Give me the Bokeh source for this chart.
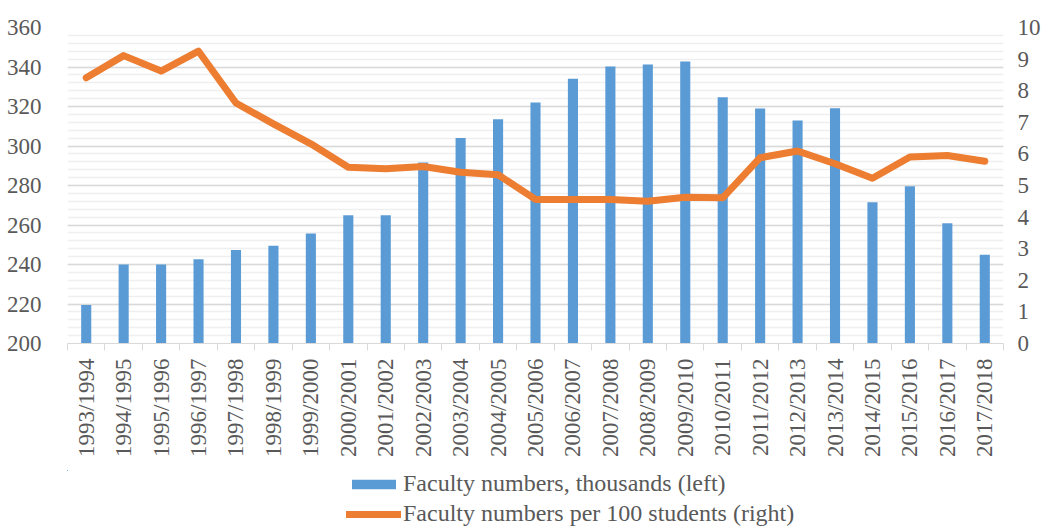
import math
from bokeh.plotting import figure
from bokeh.layouts import column
from bokeh.models import (Range1d, LinearAxis, SingleIntervalTicker, FixedTicker,
                          Legend, LegendItem, ColumnDataSource)
from bokeh.embed import file_html
from bokeh.resources import INLINE

years = ["1993/1994", "1994/1995", "1995/1996", "1996/1997", "1997/1998", "1998/1999",
         "1999/2000", "2000/2001", "2001/2002", "2002/2003", "2003/2004", "2004/2005",
         "2005/2006", "2006/2007", "2007/2008", "2008/2009", "2009/2010", "2010/2011",
         "2011/2012", "2012/2013", "2013/2014", "2014/2015", "2015/2016", "2016/2017",
         "2017/2018"]
faculty_thousands = [219.5, 240.0, 240.0, 242.7, 247.4, 249.5, 255.7, 265.0, 265.0,
                     291.6, 304.0, 313.6, 322.0, 334.0, 340.3, 341.3, 342.8, 324.7,
                     319.0, 312.9, 319.1, 271.5, 279.6, 260.9, 244.9]
faculty_per_100 = [8.41, 9.11, 8.62, 9.25, 7.61, 6.95, 6.32, 5.58, 5.53, 5.60, 5.42,
                   5.34, 4.56, 4.56, 4.56, 4.50, 4.63, 4.61, 5.88, 6.09, 5.69, 5.23,
                   5.90, 5.95, 5.77]
series_labels = ["Faculty numbers, thousands (left)",
                 "Faculty numbers per 100 students (right)"]

FONT = "Liberation Serif"
TXT = "#595959"
BAR_COLOR = "#5B9BD5"
LINE_COLOR = "#ED7D31"

idx = list(range(len(years)))
src = ColumnDataSource(dict(x=idx, bars=faculty_thousands, line=faculty_per_100))

p = figure(width=1059, height=470, output_backend="svg",
           toolbar_location=None, x_range=Range1d(-0.5, len(years) - 0.5),
           y_range=Range1d(200, 360), min_border_left=67, min_border_right=56,
           min_border_top=27, min_border_bottom=127)
p.outline_line_color = None
p.background_fill_color = "white"
p.border_fill_color = "white"
p.extra_y_ranges = {"right": Range1d(0, 10)}

p.vbar(x="x", top="bars", bottom=200, width=0.27, source=src,
       fill_color=BAR_COLOR, line_color=None)
p.line(x="x", y="line", source=src, y_range_name="right",
       line_color=LINE_COLOR, line_width=7, line_join="round", line_cap="round")

# x axis
xa = p.xaxis[0]
xa.ticker = FixedTicker(ticks=idx, minor_ticks=[i - 0.5 for i in range(len(years) + 1)])
xa.major_label_overrides = {i: y for i, y in zip(idx, years)}
xa.major_label_orientation = math.pi / 2
xa.major_tick_line_color = None
xa.minor_tick_line_color = "#D9D9D9"
xa.minor_tick_out = 7
xa.minor_tick_in = 0
xa.axis_line_color = "#D9D9D9"
xa.major_label_text_font = FONT
xa.major_label_text_font_size = "23px"
xa.major_label_text_color = TXT
xa.major_label_standoff = 8

# left axis
ya = p.yaxis[0]
ya.ticker = SingleIntervalTicker(interval=20, num_minor_ticks=5)
ya.axis_line_color = None
ya.major_tick_line_color = None
ya.minor_tick_line_color = None
ya.major_label_text_font = FONT
ya.major_label_text_font_size = "23px"
ya.major_label_text_color = TXT
ya.major_label_standoff = 20

# right axis
ra = LinearAxis(y_range_name="right", ticker=SingleIntervalTicker(interval=1, num_minor_ticks=0))
ra.axis_line_color = None
ra.major_tick_line_color = None
ra.minor_tick_line_color = None
ra.major_label_text_font = FONT
ra.major_label_text_font_size = "23px"
ra.major_label_text_color = TXT
ra.major_label_standoff = 8
p.add_layout(ra, "right")

p.xgrid.grid_line_color = None
p.ygrid.grid_line_color = "#D9D9D9"
p.ygrid.grid_line_width = 1.5
p.ygrid.minor_grid_line_color = "#EFEFEF"
p.ygrid.minor_grid_line_width = 1.5

# legend strip below the chart; its proxy glyphs use the same data but lie far
# outside this strip's ranges, so only the legend is visible
q = figure(width=1059, height=57, output_backend="svg", toolbar_location=None,
           x_range=Range1d(1000, 1001), y_range=Range1d(-2000, -1999),
           x_axis_location=None, y_axis_location=None,
           min_border_left=0, min_border_right=0, min_border_top=0, min_border_bottom=0)
q.outline_line_color = None
q.xgrid.grid_line_color = None
q.ygrid.grid_line_color = None
leg_bar = q.vbar(x="x", top="bars", bottom=200, width=0.27, source=src,
                 fill_color=BAR_COLOR, line_color=None)
leg_line = q.line(x="x", y="line", source=src, line_color=LINE_COLOR, line_width=7,
                  line_cap="round")

legend = Legend(items=[LegendItem(label=series_labels[0], renderers=[leg_bar]),
                       LegendItem(label=series_labels[1], renderers=[leg_line])],
                location=(279, 0), orientation="vertical")
legend.border_line_color = None
legend.background_fill_alpha = 0
legend.label_text_font = FONT
legend.label_text_font_size = "24px"
legend.label_text_color = TXT
legend.glyph_width = 55
legend.glyph_height = 12
legend.label_standoff = 2
legend.label_height = 24
legend.spacing = 3
legend.padding = 0
legend.margin = 0
q.add_layout(legend)

layout = column(p, q, spacing=0)
open("out.html", "w").write(file_html(layout, INLINE))
